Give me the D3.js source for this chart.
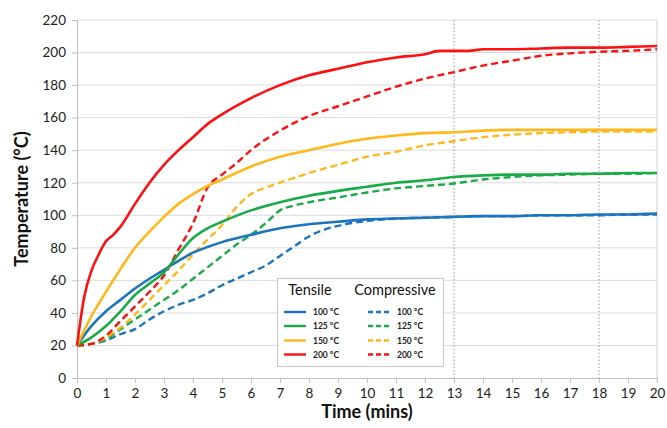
<!DOCTYPE html>
<html><head><meta charset="utf-8">
<script src="https://cdn.jsdelivr.net/npm/d3@7"></script>
<style>body{margin:0;background:#fff;}svg{display:block;font-family:Lato,"Open Sans",sans-serif;}</style>
</head><body><svg id="c" width="667" height="428"></svg>
<script>
const xTicks = d3.range(0, 21);
const yTicks = d3.range(0, 221, 20);
const markerTimes = [13, 18];
const tempLabels = ["100 °C", "125 °C", "150 °C", "200 °C"];
const colors = ["#1b75bc", "#1aab48", "#ffb81c", "#ff1010"];

const tensile100 = [[0,20],[0.5,32],[1,41],[1.5,48],[2,55],[2.5,61],[3,66.5],[3.5,72],[4,77],[4.5,80.5],[5,83.5],[6,88],[7,92],[8,94.5],[9,96],[10,97.5],[11,98],[12,98.5],[13,99],[14,99.5],[15,99.5],[16,100],[17,100],[18,100.5],[19,100.5],[20,101]];
const tensile125 = [[0,20],[0.5,25],[1,32],[1.5,41],[2,51],[2.5,58],[3,65],[3.5,76],[4,86],[4.5,92],[5,96],[6,103],[7,108],[8,112],[9,115],[10,117.5],[11,120],[12,121.5],[13,123.5],[14,124.5],[15,125],[16,125],[17,125.5],[18,125.5],[19,126],[20,126]];
const tensile150 = [[0,20],[0.5,38],[1,53],[1.5,67],[2,80],[2.5,90],[3,99],[3.5,107],[4,113],[4.5,118],[5,122],[6,130],[7,136],[8,140],[9,144],[10,147],[11,149],[12,150.5],[13,151],[14,152],[15,152.5],[16,152.5],[17,152.5],[18,152.5],[19,152.5],[20,152.5]];
const tensile200 = [[0,20],[0.25,50],[0.5,66],[0.75,76],[1,84],[1.25,88],[1.5,93],[2,107],[2.5,120],[3,131],[3.5,140],[4,148],[4.5,156],[5,162],[6,172],[7,180],[8,186],[9,190],[10,194],[11,197],[12,199],[12.5,201],[13,201],[13.5,201],[14,202],[15,202],[16,202.5],[17,203],[18,203],[19,203.5],[20,204]];

const comp100 = [[0,20],[0.5,21],[1,23],[1.5,27],[2,30],[2.5,36],[3,41],[3.5,45],[4,48],[4.5,52],[5,57],[5.5,61],[6,65],[6.5,69],[7,75],[7.5,81],[8,87],[8.5,91],[9,93.5],[10,96.5],[11,98],[12,98.5],[13,99],[14,99.5],[15,99.5],[16,100],[17,100],[18,100],[19,100.5],[20,100.5]];
const comp125 = [[0,20],[0.5,21],[1,24],[1.5,30],[2,36],[2.5,42],[3,48],[3.5,54],[4,61],[4.5,68],[5,75],[5.5,82],[6,88],[6.5,95],[7,103],[7.5,106],[8,108],[9,111],[10,114],[11,116.5],[12,118],[13,119.5],[14,122],[15,123.5],[16,124.5],[17,125],[18,125.5],[19,125.5],[20,126]];
const comp150 = [[0,20],[0.5,21],[1,25],[1.5,31],[2,39],[2.5,48],[3,57],[3.5,66],[4,76],[4.5,85],[5,94],[5.5,105],[6,113],[6.5,117],[7,120],[8,126],[9,131],[10,136],[11,139],[12,143],[13,145.5],[14,148],[15,149.5],[16,150.5],[17,151],[18,151.5],[19,151.5],[20,151.5]];
const comp200 = [[0,20],[0.5,21],[1,26],[1.5,35],[2,44],[2.5,53],[3,63],[3.5,79],[4,95],[4.5,117],[5,125],[5.5,132],[6,140],[7,152],[8,161],[9,167],[10,173],[11,179],[12,184],[13,188],[14,192],[15,195],[16,198],[17,199.5],[18,200.5],[19,201],[20,202]];

const tensileSeries = [tensile100, tensile125, tensile150, tensile200];
const compSeries = [comp100, comp125, comp150, comp200];

const svg = d3.select("#c");
const x = d3.scaleLinear().domain([0,20]).range([77, 657]);
const y = d3.scaleLinear().domain([0,220]).range([378, 20]);

// grid
svg.append("g").selectAll("line").data(yTicks.filter(d=>d>0)).join("line")
  .attr("x1", x(0)).attr("x2", x(20)).attr("y1", d=>y(d)).attr("y2", d=>y(d))
  .attr("stroke", "#dcdcdc").attr("stroke-width", 1);
svg.append("line").attr("x1", x(20)).attr("x2", x(20)).attr("y1", y(220)).attr("y2", y(0))
  .attr("stroke", "#d0d0d0");
svg.append("g").selectAll("line").data(markerTimes).join("line")
  .attr("x1", d=>x(d)).attr("x2", d=>x(d)).attr("y1", y(220)).attr("y2", y(0))
  .attr("stroke", "#999").attr("stroke-dasharray", "1.5,2").attr("stroke-width", 1);

// axes
const yAxis = svg.append("g").attr("transform", `translate(${x(0)},0)`)
  .call(d3.axisLeft(y).tickValues(yTicks).tickSize(5).tickPadding(6));
const xAxis = svg.append("g").attr("transform", `translate(0,${y(0)})`)
  .call(d3.axisBottom(x).tickValues(xTicks).tickSize(5).tickPadding(5));
[xAxis, yAxis].forEach(a => {
  a.select(".domain").attr("stroke", "#bfbfbf");
  a.selectAll(".tick line").attr("stroke", "#bfbfbf");
  a.selectAll("text").attr("fill", "#222").attr("font-size", 13.5).attr("font-family", "Lato, sans-serif");
});

// lines
const line = d3.line().x(d=>x(d[0])).y(d=>y(d[1])).curve(d3.curveMonotoneX);
const g = svg.append("g");
compSeries.forEach((s,i) => {
  g.append("path").attr("d", line(s)).attr("fill","none").attr("stroke", colors[i])
    .attr("stroke-width", 2.4).attr("stroke-dasharray", "7,4");
});
tensileSeries.forEach((s,i) => {
  g.append("path").attr("d", line(s)).attr("fill","none").attr("stroke", colors[i])
    .attr("stroke-width", 2.6);
});

// axis titles
svg.append("text").attr("x", 367).attr("y", 418).attr("text-anchor","middle")
  .attr("font-weight","bold").attr("font-size", 18).attr("fill","#111").text("Time (mins)");
svg.append("text").attr("transform", "translate(28,199) rotate(-90)").attr("text-anchor","middle")
  .attr("font-weight","bold").attr("font-size", 18).attr("fill","#111").text("Temperature (°C)");

// legend
const lg = svg.append("g");
lg.append("rect").attr("x", 277.5).attr("y", 278.5).attr("width", 166).attr("height", 88)
  .attr("fill", "#fff").attr("stroke", "#c8c8c8");
lg.append("text").attr("x", 310).attr("y", 295).attr("text-anchor","middle").attr("font-size", 14.5).attr("fill","#111").text("Tensile");
lg.append("text").attr("x", 395).attr("y", 295).attr("text-anchor","middle").attr("font-size", 14.5).attr("fill","#111").text("Compressive");
const rowY = [312, 326, 340.5, 354.5];
tempLabels.forEach((lab,i) => {
  lg.append("line").attr("x1", 284).attr("x2", 306).attr("y1", rowY[i]).attr("y2", rowY[i])
    .attr("stroke", colors[i]).attr("stroke-width", 2.4);
  lg.append("text").attr("x", 313).attr("y", rowY[i]+3).attr("font-size", 8.5).attr("font-weight","bold").attr("fill","#222").text(lab);
  lg.append("line").attr("x1", 368).attr("x2", 391).attr("y1", rowY[i]).attr("y2", rowY[i])
    .attr("stroke", colors[i]).attr("stroke-width", 2.4).attr("stroke-dasharray", "5,3");
  lg.append("text").attr("x", 397).attr("y", rowY[i]+3).attr("font-size", 8.5).attr("font-weight","bold").attr("fill","#222").text(lab);
});
</script></body></html>
